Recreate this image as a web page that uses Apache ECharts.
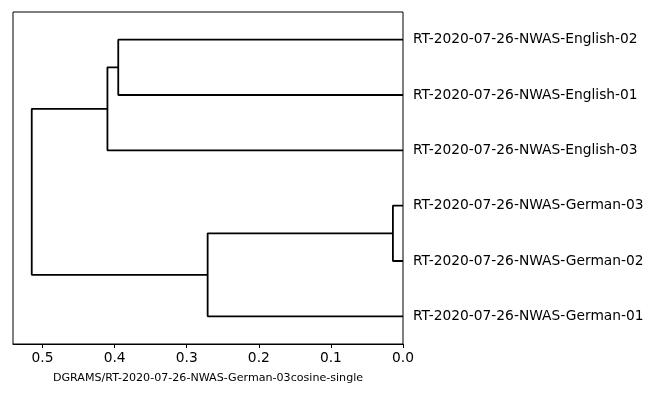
<!DOCTYPE html>
<html>
<head>
<meta charset="utf-8">
<script src="https://cdn.jsdelivr.net/npm/echarts@6/dist/echarts.min.js"></script>
<style>html,body{margin:0;padding:0;background:#fff}#c{width:650px;height:400px}</style>
</head>
<body>
<div id="c"></div>
<script>
// Leaves in display order (top to bottom)
const leafLabels = [
  'RT-2020-07-26-NWAS-English-02',
  'RT-2020-07-26-NWAS-English-01',
  'RT-2020-07-26-NWAS-English-03',
  'RT-2020-07-26-NWAS-German-03',
  'RT-2020-07-26-NWAS-German-02',
  'RT-2020-07-26-NWAS-German-01'
];
// Linkage: cluster n+k is formed by merging mergeLeft[k] and mergeRight[k] at mergeHeight[k]
const mergeLeft   = [0, 3, 6, 7, 8];
const mergeRight  = [1, 4, 2, 5, 9];
const mergeHeight = [0.395, 0.014, 0.410, 0.271, 0.515];
const xTicks = [0.0, 0.1, 0.2, 0.3, 0.4, 0.5];
const axisTitle = 'DGRAMS/RT-2020-07-26-NWAS-German-03cosine-single';

const n = leafLabels.length;
const posY = [], posH = [];
for (let i = 0; i < n; i++) { posY.push(5 + 10 * i); posH.push(0); }
const series = [];
for (let k = 0; k < mergeLeft.length; k++) {
  const a = mergeLeft[k], b = mergeRight[k], h = mergeHeight[k];
  series.push({
    type: 'line', xAxisIndex: 0, yAxisIndex: 0, symbol: 'none', silent: true,
    animation: false,
    lineStyle: { color: '#000', width: 1.8 },
    data: [[posH[a], posY[a]], [h, posY[a]], [h, posY[b]], [posH[b], posY[b]]]
  });
  posY.push((posY[a] + posY[b]) / 2);
  posH.push(h);
}

const chart = echarts.init(document.getElementById('c'), null, { renderer: 'canvas' });
chart.setOption({
  animation: false,
  backgroundColor: '#fff',
  textStyle: { fontFamily: 'DejaVu Sans' },
  grid: { left: 13, right: 247, top: 12, bottom: 56, show: true, borderColor: '#000', borderWidth: 1, backgroundColor: 'transparent' },
  xAxis: {
    type: 'value', inverse: true, min: 0, max: 0.541, interval: 0.1,
    axisLine: { show: true, onZero: false, lineStyle: { color: '#000', width: 1 } },
    axisTick: { show: true, length: 4, customValues: xTicks, lineStyle: { color: '#000', width: 1 } },
    axisLabel: { color: '#000', fontSize: 13.8, margin: 7, fontFamily: 'DejaVu Sans', customValues: xTicks,
      formatter: v => v.toFixed(1) },
    splitLine: { show: false },
    name: axisTitle, nameLocation: 'middle', nameGap: 29,
    nameTextStyle: { color: '#000', fontSize: 11.1, fontFamily: 'DejaVu Sans' }
  },
  yAxis: [
    { type: 'value', min: 0, max: 10 * n, inverse: true, show: false },
    { type: 'category', data: leafLabels, inverse: true, position: 'right',
      axisLine: { show: false }, axisTick: { show: false }, splitLine: { show: false },
      axisLabel: { color: '#000', fontSize: 13.8, margin: 10, fontFamily: 'DejaVu Sans', padding: [2, 0, 0, 0] } }
  ],
  series: series
});
</script>
</body>
</html>
